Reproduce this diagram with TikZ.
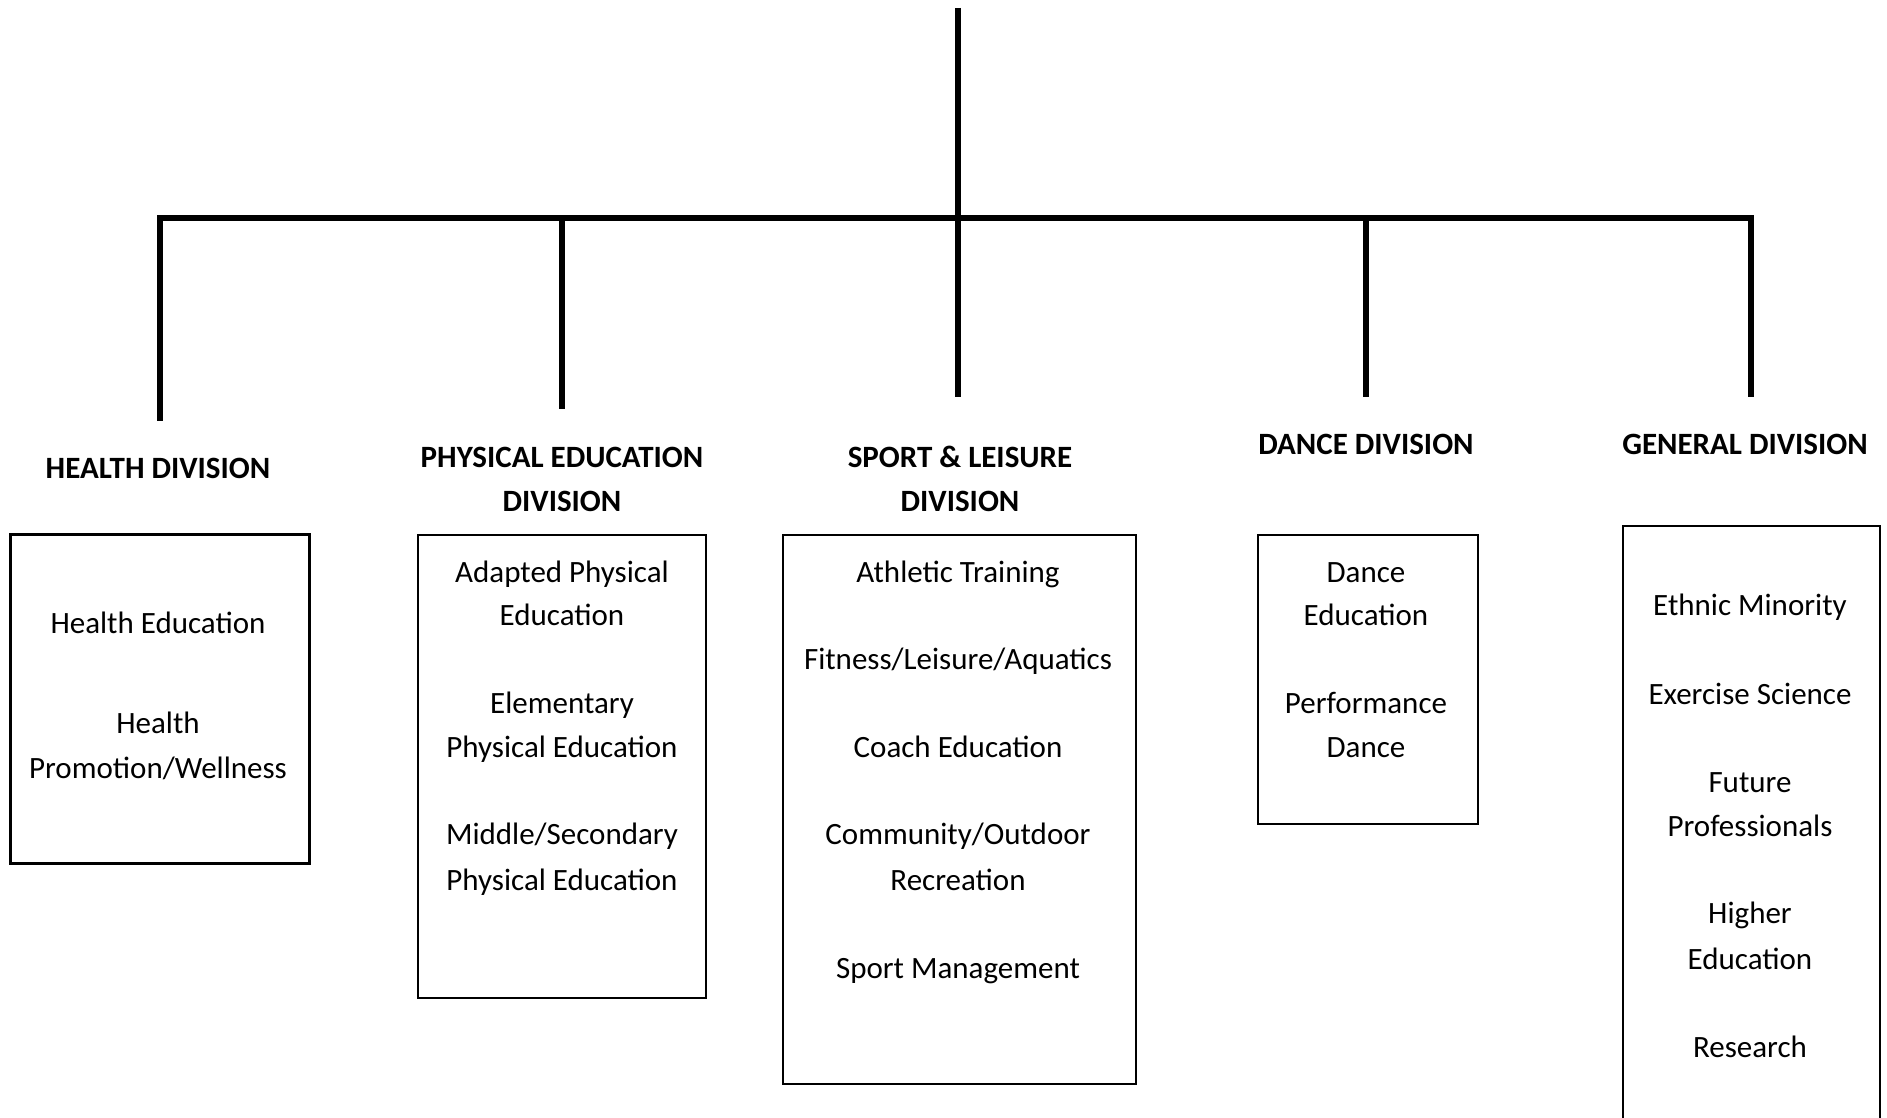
\documentclass[tikz,border=0pt]{standalone}
\usepackage{fontspec}
\setmainfont{Carlito}
\begin{document}
\begin{tikzpicture}[x=0.5pt,y=-0.5pt,
  conn/.style={line width=2.6pt, line join=miter},
  hdr/.style={font=\bfseries\fontsize{15.5}{22}\selectfont, anchor=base, inner sep=0pt},
  item/.style={font=\fontsize{15.5}{22}\selectfont, anchor=base, inner sep=0pt},
  box/.style={draw, line width=0.8pt, inner sep=0pt, fill=none}]
\useasboundingbox (0,0) rectangle (1887,1118);
% connectors
\coordinate (top) at (958,8);
\coordinate (hub) at (958,218);
\coordinate (hl) at (160,218);
\coordinate (hr) at (1751,218);
\coordinate (d1) at (160,421);
\coordinate (d2) at (562,409);
\coordinate (d3) at (958,397);
\coordinate (d4) at (1366,397);
\coordinate (d5) at (1751,397);
\draw[conn] (top) -- (hub);
\draw[conn] (d1) -- (hl) -- (hr) -- (d5);
\draw[conn] (hub) -- (d3);
\foreach \c in {d2,d4} \draw[conn] (\c |- hl) -- (\c);
% headers
\node[hdr] (h1) at (158,479) {HEALTH DIVISION};
\node[hdr] (h2a) at (562,467) {PHYSICAL EDUCATION};
\node[hdr] (h2b) at (562,511) {DIVISION};
\node[hdr] (h3a) at (960,467) {SPORT \& LEISURE};
\node[hdr] (h3b) at (960,511) {DIVISION};
\node[hdr] (h4) at (1366,455) {DANCE DIVISION};
\node[hdr] (h5) at (1745,455) {GENERAL DIVISION};
% boxes
\node[box, line width=1.5pt, minimum width=299*0.5pt, minimum height=329*0.5pt] (b1) at (159.5,698.5) {};
\node[box, minimum width=288*0.5pt, minimum height=463*0.5pt] (b2) at (562,766.5) {};
\node[box, minimum width=353*0.5pt, minimum height=549*0.5pt] (b3) at (959.5,809.5) {};
\node[box, minimum width=220*0.5pt, minimum height=289*0.5pt] (b4) at (1368,679.5) {};
\node[box, minimum width=257*0.5pt, minimum height=608*0.5pt] (b5) at (1751.5,830) {};
% items
\node[item] (t11) at (158,633) {Health Education};
\node[item] (t12) at (158,733) {Health};
\node[item] (t13) at (158,778) {Promotion/Wellness};
\node[item] (t21) at (562,582) {Adapted Physical};
\node[item] (t22) at (562,625) {Education};
\node[item] (t23) at (562,713) {Elementary};
\node[item] (t24) at (562,757) {Physical Education};
\node[item] (t25) at (562,844) {Middle/Secondary};
\node[item] (t26) at (562,890) {Physical Education};
\node[item] (t31) at (958,582) {Athletic Training};
\node[item] (t32) at (958,669) {Fitness/Leisure/Aquatics};
\node[item] (t33) at (958,757) {Coach Education};
\node[item] (t34) at (958,844) {Community/Outdoor};
\node[item] (t35) at (958,890) {Recreation};
\node[item] (t36) at (958,978) {Sport Management};
\node[item] (t41) at (1366,582) {Dance};
\node[item] (t42) at (1366,625) {Education};
\node[item] (t43) at (1366,713) {Performance};
\node[item] (t44) at (1366,757) {Dance};
\node[item] (t51) at (1750,615) {Ethnic Minority};
\node[item] (t52) at (1750,704) {Exercise Science};
\node[item] (t53) at (1750,792) {Future};
\node[item] (t54) at (1750,836) {Professionals};
\node[item] (t55) at (1750,923) {Higher};
\node[item] (t56) at (1750,969) {Education};
\node[item] (t57) at (1750,1057) {Research};
\end{tikzpicture}
\end{document}
